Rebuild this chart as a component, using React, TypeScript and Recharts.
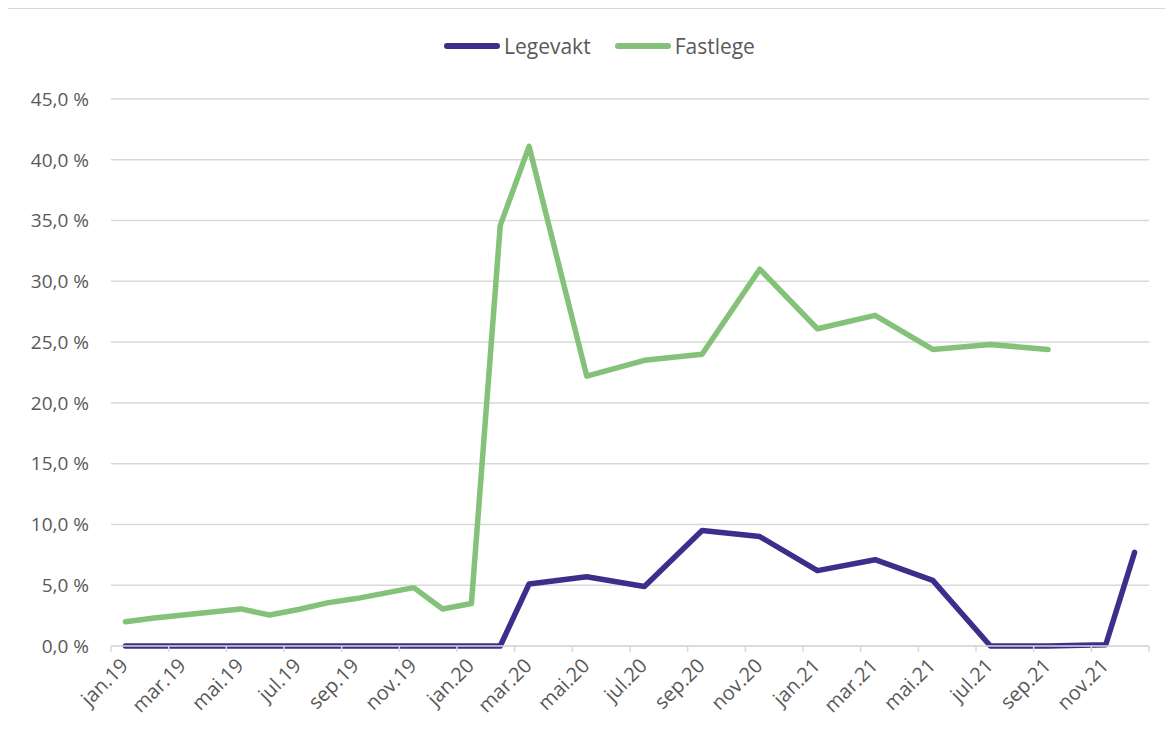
import { LineChart, Line, XAxis, YAxis, CartesianGrid } from 'recharts';

const months = [
  'jan.19', 'feb.19', 'mar.19', 'apr.19', 'mai.19', 'jun.19', 'jul.19', 'aug.19', 'sep.19', 'okt.19', 'nov.19', 'des.19',
  'jan.20', 'feb.20', 'mar.20', 'apr.20', 'mai.20', 'jun.20', 'jul.20', 'aug.20', 'sep.20', 'okt.20', 'nov.20', 'des.20',
  'jan.21', 'feb.21', 'mar.21', 'apr.21', 'mai.21', 'jun.21', 'jul.21', 'aug.21', 'sep.21', 'okt.21', 'nov.21', 'des.21',
];

const legevakt: (number | null)[] = [
  0, 0, 0, 0, 0, 0, 0, 0, 0, 0, 0, 0,
  0, 0, 5.1, null, 5.7, null, 4.9, null, 9.5, null, 9.0, null,
  6.2, null, 7.1, null, 5.4, null, 0, null, 0, null, 0.1, 7.7,
];

const fastlege: (number | null)[] = [
  2.0, 2.3, 2.55, 2.8, 3.05, 2.55, 3.0, 3.55, 3.9, 4.35, 4.8, 3.05,
  3.5, 34.6, 41.1, null, 22.2, null, 23.5, null, 24.0, null, 31.0, null,
  26.1, null, 27.2, null, 24.4, null, 24.8, null, 24.4, null, null, null,
];

const yTicks = [0, 5, 10, 15, 20, 25, 30, 35, 40, 45];

const data = months.map((m, i) => ({ i, m, legevakt: legevakt[i], fastlege: fastlege[i] }));

// labels every second month, tick marks on the boundaries between 2-month groups
const xTicks: number[] = [];
for (let i = 0; i < months.length; i += 2) {
  xTicks.push(i - 0.5, i);
}
xTicks.push(months.length - 0.5);

const PURPLE = '#3b2f8c';
const GREEN = '#84c27a';
const GRID = '#d9d9d9';
const TEXT = '#595959';
const FONT = '"Open Sans", sans-serif';

function XTick(props: any) {
  const { x, y, payload } = props;
  const v = payload.value;
  if (!Number.isInteger(v)) {
    return <line x1={x} x2={x} y1={y} y2={y + 6} stroke={GRID} strokeWidth={1.5} />;
  }
  const tx = x + 4;
  const ty = y + 21;
  return (
    <text x={tx} y={ty} transform={`rotate(-45, ${tx}, ${ty})`} textAnchor="end" fill={TEXT} fontSize={20} fontFamily={FONT}>
      {months[v]}
    </text>
  );
}

function LegendItem({ color, label }: { color: string; label: string }) {
  return (
    <span style={{ display: 'inline-flex', alignItems: 'center', marginRight: 24 }}>
      <span style={{ display: 'inline-block', width: 56, height: 6, borderRadius: 3, background: color, marginRight: 4 }} />
      <span>{label}</span>
    </span>
  );
}

export default function App() {
  return (
    <div style={{ position: 'relative', width: 1165, height: 733, border: `1px solid ${GRID}`, marginLeft: -1 }}>
      <div
        style={{
          position: 'absolute', top: 24, left: 436, fontFamily: FONT, fontSize: 21, color: TEXT,
          whiteSpace: 'nowrap', display: 'flex', lineHeight: '26px',
        }}
      >
        <LegendItem color={PURPLE} label="Legevakt" />
        <LegendItem color={GREEN} label="Fastlege" />
      </div>
      <LineChart width={1165} height={733} data={data} margin={{ top: 90, right: 24, bottom: 0, left: 0 }}>
        <CartesianGrid vertical={false} stroke={GRID} strokeWidth={1.5} />
        <XAxis
          dataKey="i"
          type="number"
          domain={[-0.5, months.length - 0.5]}
          ticks={xTicks}
          interval={0}
          tick={<XTick />}
          tickLine={false}
          tickSize={0}
          tickMargin={0}
          axisLine={{ stroke: GRID, strokeWidth: 1.5 }}
          height={96}
        />
        <YAxis
          domain={[0, 45]}
          ticks={yTicks}
          interval={0}
          width={103}
          axisLine={false}
          tickLine={false}
          tickSize={0}
          tickMargin={22}
          tickFormatter={(v: number) => `${v.toFixed(1).replace('.', ',')} %`}
          tick={{ fill: TEXT, fontSize: 19, fontFamily: FONT }}
        />
        <Line
          dataKey="legevakt"
          stroke={PURPLE}
          strokeWidth={5.5}
          dot={false}
          connectNulls
          strokeLinecap="round"
          strokeLinejoin="round"
          isAnimationActive={false}
        />
        <Line
          dataKey="fastlege"
          stroke={GREEN}
          strokeWidth={5.5}
          dot={false}
          connectNulls
          strokeLinecap="round"
          strokeLinejoin="round"
          isAnimationActive={false}
        />
      </LineChart>
    </div>
  );
}
